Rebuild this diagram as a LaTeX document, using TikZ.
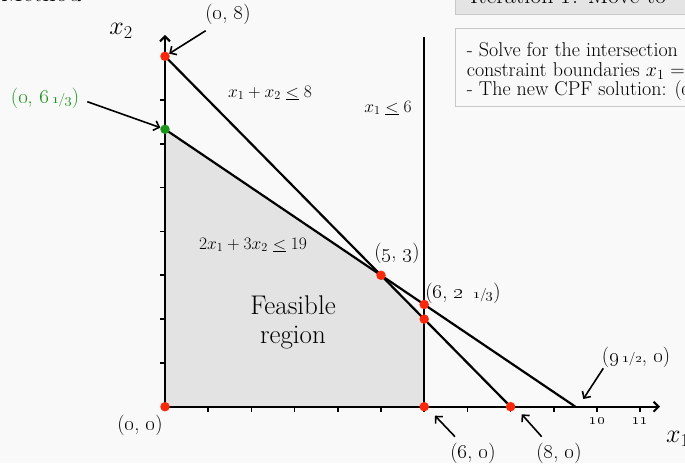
\RequirePackage{fix-cm}
\documentclass[tikz,border=0pt]{standalone}
\usetikzlibrary{arrows.meta}
\definecolor{bg}{RGB}{249,249,249}
\definecolor{feas}{RGB}{227,227,227}
\definecolor{dotred}{RGB}{250,40,10}
\definecolor{ggreen}{RGB}{25,150,25}
\definecolor{boxedge}{RGB}{200,200,200}
\definecolor{titlefill}{RGB}{228,228,228}
\newcommand\os[1]{\oldstylenums{#1}}
\newcommand\frc[2]{{\fontsize{13.5}{14}\selectfont\oldstylenums{#1}/\oldstylenums{#2}}}
\newcommand\leqq{\mathrel{\underline{<}}}
\begin{document}
\begin{tikzpicture}[x=1pt,y=1pt,
  ax/.style={line width=2pt},
  cline/.style={line width=2.2pt},
  tip/.style={-{Straight Barb[length=5pt,width=10pt]}},
  arr/.style={line width=1.6pt,-{Straight Barb[length=5pt,width=10pt]}},
  dot/.style={circle,fill=dotred,inner sep=0pt,minimum size=9.5pt},
  gdot/.style={circle,fill=ggreen,inner sep=0pt,minimum size=9.5pt},
  lab/.style={font=\fontsize{20.5}{22}\selectfont, inner sep=0pt},
  mlab/.style={font=\fontsize{17.5}{20}\selectfont, inner sep=0pt},
  boxtxt/.style={font=\fontsize{20}{22}\selectfont, inner sep=0pt, anchor=base west},
  tickmark/.style={line width=1.6pt}
  ]
\useasboundingbox (0,0) rectangle (685,463);
\clip (0,0) rectangle (685,463);
\fill[bg] (0,0) rectangle (685,463);

% header fragments
\node[anchor=base east, font=\fontsize{26}{28}\selectfont, inner sep=0pt] (method) at (82,461) {Method};
\draw[boxedge, fill=titlefill] (455,449) rectangle (720,480);
\node[anchor=base west, font=\fontsize{24}{26}\selectfont, inner sep=0pt] (iter) at (470,459) {Iteration \os{1}: Move to};

% info box
\draw[boxedge, fill=bg] (455,357) rectangle (720,434.7);
\node[boxtxt] (info1) at (466.7,406) {- Solve for the intersection};
\node[boxtxt] (info2) at (466.7,386.3) {constraint boundaries $x_{1}$ =};
\node[boxtxt] (info3) at (466.7,367.3) {- The new CPF solution: (\os{0}};

% geometry
\coordinate (O) at (165,56.3);
\coordinate (A08) at (165,406.7);
\coordinate (A0193) at (165,333.7);
\coordinate (P53) at (381,187.7);
\coordinate (P673) at (424.2,158.5);
\coordinate (P62) at (424.2,143.9);
\coordinate (P60) at (424.2,56.3);
\coordinate (P80) at (510.6,56.3);
\coordinate (P950) at (575.4,56.3);
\coordinate (X6top) at (424.2,426);
\coordinate (Ytop) at (165,428);
\coordinate (Xend) at (660,56.3);

% feasible region
\fill[feas] (O) -- (A0193) -- (P53) -- (P62) -- (P60) -- cycle;

% constraint lines
\draw[cline] (A08) -- (P80);
\draw[cline] (A0193) -- (P950);
\draw[cline] (P60) -- (X6top);

% axes
\draw[ax,tip] (O) -- (Ytop);
\draw[ax,tip] (O) -- (Xend);
\foreach \k in {1,...,11} \draw[tickmark] ({165+43.2*\k},56.3) -- ++(0,-5.5);
\foreach \k in {1,...,7} \draw[tickmark] (165,{56.3+43.8*\k}) -- ++(-5.5,0);
\node[font=\fontsize{15}{16}\selectfont, inner sep=0pt] (t10) at (597,42) {\os{10}};
\node[font=\fontsize{15}{16}\selectfont, inner sep=0pt] (t11) at (640.2,42) {\os{11}};
\node[font=\fontsize{26}{28}\selectfont, inner sep=0pt] (x2lab) at (121,432) {$x_2$};
\node[font=\fontsize{26}{28}\selectfont, inner sep=0pt, anchor=west] (x1lab) at (666,24) {$x_1$};

% dots
\node[dot] (d08) at (A08) {};
\node[gdot] (d0193) at (A0193) {};
\node[dot] (d53) at (P53) {};
\node[dot] (d673) at (P673) {};
\node[dot] (d62) at (P62) {};
\node[dot] (d60) at (P60) {};
\node[dot] (d80) at (P80) {};
\node[dot] (d00) at (O) {};

% labels
\node[mlab] (c1) at (270,370) {$x_1 + x_2 \leqq 8$};
\node[mlab] (c2) at (388,355) {$x_1 \leqq 6$};
\node[mlab] (c3) at (253,218) {$2x_1 + 3x_2 \leqq 19$};
\node[align=center, font=\fontsize{27}{29}\selectfont, inner sep=0pt] (feasible) at (293,141) {Feasible\\region};

\node[lab] (l08) at (228,449) {(\os{0}, \os{8})};
\node[lab, text=ggreen] (l0193) at (45,365) {(\os{0}, \os{6}\,\frc{1}{3})};
\node[lab] (l53) at (397,210) {(\os{5}, \os{3})};
\node[lab] (l673) at (463,170) {(\os{6}, \os{2}\enspace\frc{1}{3})};
\node[lab] (l00) at (140,38) {(\os{0}, \os{0})};
\node[lab] (l60) at (473,10) {(\os{6}, \os{0})};
\node[lab] (l80) at (559,10) {(\os{8}, \os{0})};
\node[lab] (l950) at (636,106) {(\os{9}\,\frc{1}{2}, \os{0})};

% pointer arrows
\coordinate (t08) at (205.7,432.3);
\coordinate (t0193) at (87.3,361.3);
\coordinate (t60) at (455,26.3);
\coordinate (h60) at (435,47.3);
\coordinate (t80) at (541.7,26.3);
\coordinate (h80) at (521.7,48.7);
\coordinate (t950) at (603.3,94.7);
\coordinate (h950) at (583.3,64);
\draw[arr] (t08) -- (d08);
\draw[arr] (t0193) -- (d0193);
\draw[arr] (t60) -- (h60);
\draw[arr] (t80) -- (h80);
\draw[arr] (t950) -- (h950);
\end{tikzpicture}
\end{document}
